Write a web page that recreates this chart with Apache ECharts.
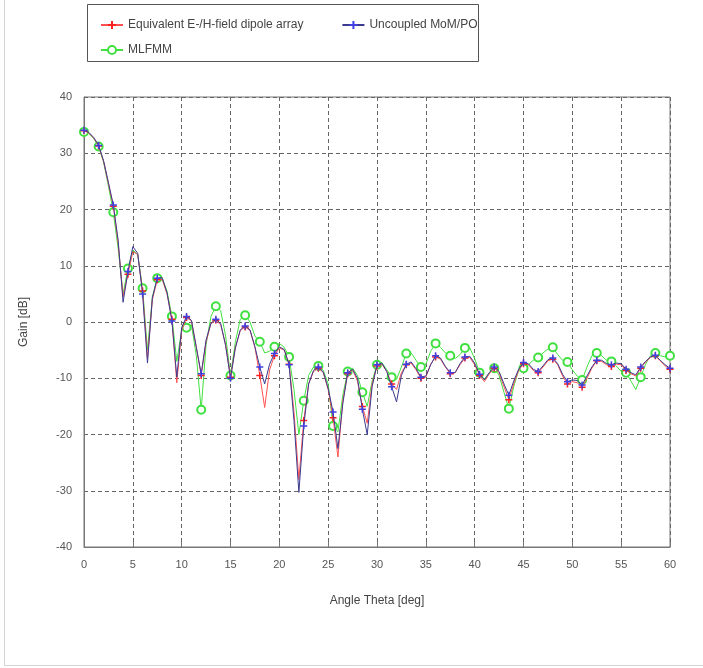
<!DOCTYPE html>
<html>
<head>
<meta charset="utf-8">
<title>Gain vs Angle Theta</title>
<script src="https://cdn.jsdelivr.net/npm/echarts@6/dist/echarts.min.js"></script>
<style>
  html, body { margin: 0; padding: 0; background: #fff; }
  #chart { width: 703px; height: 668px; }
</style>
</head>
<body>
<div id="chart"></div>
<script>
// angle theta [deg]
const angles = [
  0, 0.5, 1, 1.5, 2, 2.5, 3, 3.5, 4, 4.5, 5, 5.5, 6, 6.5, 7, 7.5, 8, 8.5, 9, 9.5,
  10, 10.5, 11, 11.5, 12, 12.5, 13, 13.5, 14, 14.5, 15, 15.5, 16, 16.5, 17, 17.5, 18, 18.5, 19, 19.5,
  20, 20.5, 21, 21.5, 22, 22.5, 23, 23.5, 24, 24.5, 25, 25.5, 26, 26.5, 27, 27.5, 28, 28.5, 29, 29.5,
  30, 30.5, 31, 31.5, 32, 32.5, 33, 33.5, 34, 34.5, 35, 35.5, 36, 36.5, 37, 37.5, 38, 38.5, 39, 39.5,
  40, 40.5, 41, 41.5, 42, 42.5, 43, 43.5, 44, 44.5, 45, 45.5, 46, 46.5, 47, 47.5, 48, 48.5, 49, 49.5,
  50, 50.5, 51, 51.5, 52, 52.5, 53, 53.5, 54, 54.5, 55, 55.5, 56, 56.5, 57, 57.5, 58, 58.5, 59, 59.5,
  60
];

// gain [dB] - equivalent E-/H-field dipole array
const gainDipole = [
  34.0, 33.6, 32.7, 31.3, 28.6, 24.6, 20.6, 14.0, 4.5, 8.5, 12.5, 12.0, 5.5, -6.5, 4.0, 7.5, 7.6, 5.0, 0.5, -10.8,
  -1.5, 0.8, 0.2, -4.5, -9.5, -3.5, -0.3, 0.3, -0.5, -4.0, -9.8, -4.5, -1.5, -0.9, -1.5, -4.5, -9.5, -15.2, -8.5, -6.0,
  -4.6, -5.0, -7.5, -16.0, -28.0, -17.5, -11.0, -8.8, -8.2, -9.0, -12.0, -17.0, -24.0, -14.0, -9.2, -8.5, -10.5, -15.0, -18.0, -11.0,
  -7.8, -7.5, -8.8, -11.0, -12.0, -9.0, -7.6, -7.3, -8.5, -10.0, -9.8, -7.5, -6.2, -6.6, -8.0, -9.2, -9.0, -7.6, -6.4, -6.3,
  -7.6, -9.5, -10.6, -9.2, -8.2, -9.0, -11.5, -13.8, -11.0, -8.6, -7.4, -7.6, -8.6, -9.0, -8.0, -6.9, -6.6, -7.6, -9.6, -11.0,
  -10.6, -10.8, -11.6, -10.0, -8.2, -6.9, -7.0, -7.6, -7.9, -7.5, -7.6, -8.6, -9.2, -9.6, -8.2, -7.1, -6.3, -6.0, -6.9, -7.8,
  -8.4
];

// gain [dB] - uncoupled MoM/PO
const gainMomPo = [
  34.1, 33.7, 32.8, 31.4, 28.7, 24.8, 20.8, 14.5, 3.5, 9.0, 13.4, 12.2, 5.0, -7.3, 4.3, 7.8, 7.9, 5.2, 0.2, -9.8,
  -1.0, 1.0, 0.3, -4.5, -9.2, -3.2, -0.2, 0.5, -0.3, -4.2, -10.0, -4.6, -1.4, -0.7, -1.4, -4.4, -8.0, -11.0, -7.5, -5.6,
  -4.4, -4.9, -7.6, -17.5, -30.3, -18.5, -11.0, -8.6, -8.0, -8.9, -11.8, -16.0, -22.5, -14.5, -9.0, -8.4, -10.0, -15.5, -20.0, -11.5,
  -7.6, -7.3, -8.8, -11.5, -14.2, -9.5, -7.5, -7.1, -8.3, -9.8, -9.6, -7.6, -6.0, -6.4, -7.9, -9.0, -9.0, -7.4, -6.2, -6.1,
  -7.3, -9.3, -10.3, -9.0, -8.0, -8.8, -11.0, -13.0, -10.5, -8.4, -7.2, -7.4, -8.4, -8.8, -7.8, -6.7, -6.4, -7.4, -9.3, -10.6,
  -10.3, -10.4, -11.2, -9.6, -8.0, -6.8, -6.8, -7.4, -7.6, -7.3, -7.4, -8.4, -9.0, -9.4, -8.0, -7.0, -6.2, -5.9, -6.8, -7.6,
  -8.2
];

// gain [dB] - MLFMM
const gainMlfmm = [
  33.8, 33.5, 32.6, 31.2, 28.4, 24.2, 19.5, 13.0, 5.0, 9.5, 12.8, 12.0, 6.0, -5.0, 4.5, 7.8, 7.8, 5.5, 1.0, -7.0,
  -1.5, -1.0, -0.5, -6.0, -15.6, -4.0, 1.0, 2.8, 2.0, -2.5, -9.5, -3.5, 0.5, 1.2, 0.0, -2.5, -3.5, -5.5, -5.2, -4.4,
  -3.8, -4.5, -6.2, -12.0, -20.0, -14.0, -9.5, -8.0, -7.8, -8.6, -11.0, -18.5, -19.5, -13.0, -8.8, -8.2, -9.5, -12.5, -15.0, -10.5,
  -7.6, -7.2, -8.5, -9.8, -10.2, -8.0, -5.6, -5.5, -6.8, -8.0, -7.5, -5.2, -3.8, -4.5, -5.5, -6.0, -6.5, -5.8, -4.6, -4.6,
  -6.5, -9.0, -10.2, -9.0, -8.2, -9.5, -12.5, -15.4, -11.5, -8.6, -8.2, -7.6, -6.8, -6.3, -5.5, -4.8, -4.5, -5.8, -6.8, -7.1,
  -8.5, -9.6, -10.3, -8.0, -6.0, -5.5, -6.0, -6.8, -7.0, -7.8, -8.8, -9.0, -10.5, -12.0, -9.8, -7.5, -6.0, -5.5, -6.0, -6.2,
  -6.0
];

const plusPath = 'path://M0,5L10,5M5,0L5,10';

// every third sample carries a marker, like the original plot
function points(ys) {
  return angles.map((x, i) => i % 3 === 0 ? [x, ys[i]] : { value: [x, ys[i]], symbol: 'none' });
}

const chart = echarts.init(document.getElementById('chart'), null, { renderer: 'canvas' });

const axisText = { color: '#555', fontSize: 11, fontFamily: 'Liberation Sans, Arial, sans-serif' };
const gridLine = { lineStyle: { color: '#666', width: 1, type: [4, 3] } };
const legendBase = {
  itemWidth: 22,
  itemHeight: 10,
  textStyle: { color: '#444', fontSize: 12 },
};

chart.setOption({
  animation: false,
  textStyle: { fontFamily: 'Liberation Sans, Arial, sans-serif' },
  graphic: [
    {
      type: 'rect',
      shape: { x: 4.5, y: -2, width: 720, height: 667.5 },
      style: { fill: 'none', stroke: '#d4d4d4', lineWidth: 1 },
      silent: true,
    },
    {
      type: 'rect',
      shape: { x: 87.5, y: 4.5, width: 391, height: 57 },
      style: { fill: '#fff', stroke: '#555', lineWidth: 1 },
      silent: true,
      z: -1,
    },
  ],
  legend: [
    Object.assign({ left: 95, top: 14, itemGap: 38, data: ['Equivalent E-/H-field dipole array', 'Uncoupled MoM/PO'] }, legendBase),
    Object.assign({ left: 95, top: 39, data: ['MLFMM'] }, legendBase),
  ],
  grid: { left: 84, right: 33, top: 97, bottom: 121, show: true, borderColor: '#777', borderWidth: 1 },
  xAxis: {
    type: 'value',
    min: 0,
    max: 60,
    interval: 5,
    name: 'Angle Theta [deg]',
    nameLocation: 'middle',
    nameGap: 48,
    nameTextStyle: { color: '#444', fontSize: 12 },
    axisLine: { show: true, onZero: false, lineStyle: { color: '#777' } },
    axisTick: { show: true, inside: true, length: 5, lineStyle: { color: '#777' } },
    axisLabel: Object.assign({ margin: 12 }, axisText),
    splitLine: gridLine,
  },
  yAxis: {
    type: 'value',
    min: -40,
    max: 40,
    interval: 10,
    name: 'Gain [dB]',
    nameLocation: 'middle',
    nameGap: 54,
    nameTextStyle: { color: '#444', fontSize: 12 },
    axisLine: { show: true, onZero: false, lineStyle: { color: '#777' } },
    axisTick: { show: false },
    axisLabel: Object.assign({ margin: 12 }, axisText),
    splitLine: gridLine,
  },
  series: [
    {
      name: 'Equivalent E-/H-field dipole array',
      type: 'line',
      data: points(gainDipole),
      symbol: plusPath,
      symbolSize: 7,
      lineStyle: { color: '#ff5050', width: 1 },
      itemStyle: { color: '#ff2020', borderColor: '#ff2020', borderWidth: 1.5 },
      z: 3,
    },
    {
      name: 'Uncoupled MoM/PO',
      type: 'line',
      data: points(gainMomPo),
      symbol: plusPath,
      symbolSize: 7,
      lineStyle: { color: '#3a3a90', width: 1 },
      itemStyle: { color: '#4040e0', borderColor: '#4040e0', borderWidth: 1.5 },
      z: 4,
    },
    {
      name: 'MLFMM',
      type: 'line',
      data: points(gainMlfmm),
      symbol: 'emptyCircle',
      symbolSize: 8,
      lineStyle: { color: '#40e040', width: 1 },
      itemStyle: { color: '#40e040', borderColor: '#40e040', borderWidth: 1 },
      z: 2,
    },
  ],
});
</script>
</body>
</html>
